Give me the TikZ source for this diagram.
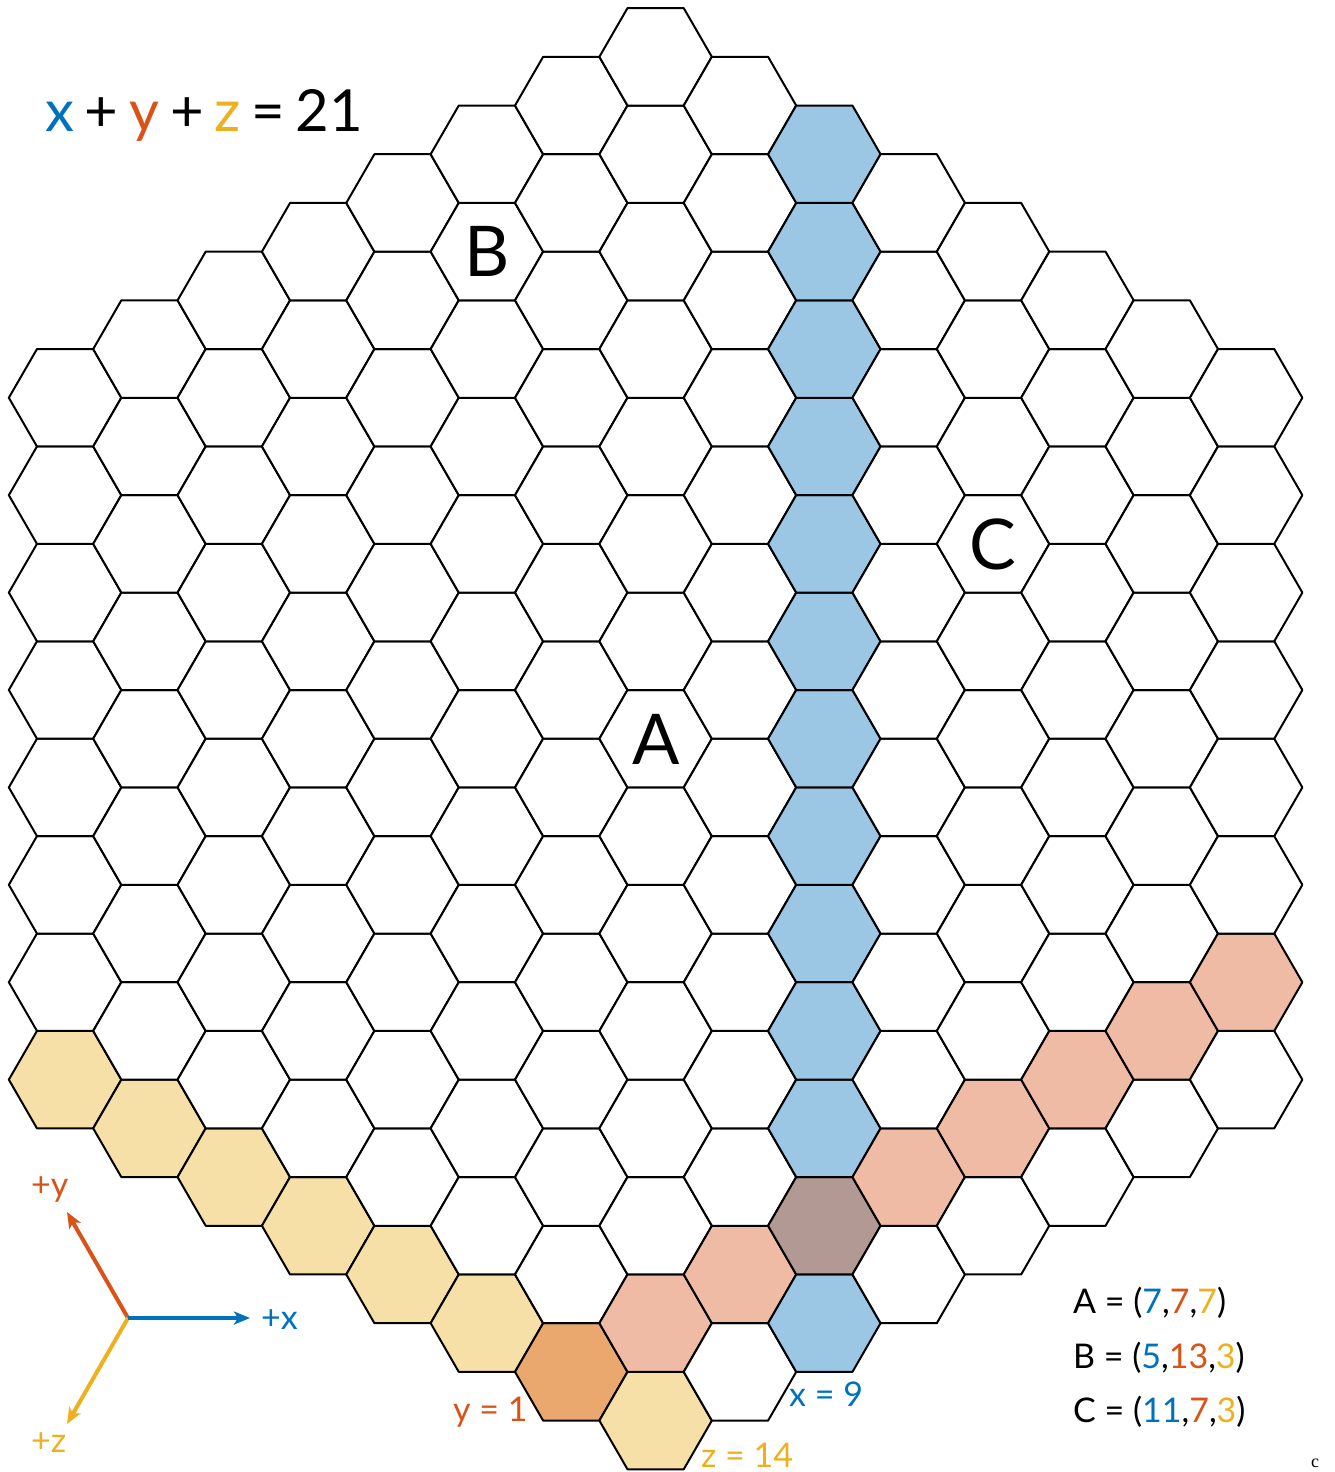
\documentclass[tikz,border=0pt]{standalone}
\usepackage{fontspec}
\setmainfont{Lato}
\newfontfamily\smallserif{Liberation Serif}
\usetikzlibrary{arrows.meta}
\definecolor{tblue}{RGB}{0,114,189}
\definecolor{tred}{RGB}{217,83,25}
\definecolor{tyellow}{RGB}{237,177,32}
\definecolor{cblue}{RGB}{155,199,229}
\definecolor{cred}{RGB}{240,187,165}
\definecolor{cyellow}{RGB}{247,224,168}
\definecolor{corange}{RGB}{234,168,110}
\definecolor{cbrown}{RGB}{179,153,148}
\tikzset{
  hexcell/.style={draw=black, line width=2pt, line join=round},
  axisarrow/.style={line width=4pt, -{Stealth[length=16pt,width=13pt,inset=4pt]}},
  biglabel/.style={font=\fontsize{70}{70}\selectfont, inner sep=0pt, anchor=base},
  legendtext/.style={font=\fontsize{34}{34}\selectfont, inner sep=0pt, anchor=base west},
  linelabel/.style={font=\fontsize{34}{34}\selectfont, inner sep=0pt, anchor=base west},
}
\begin{document}
\begin{tikzpicture}[x=1pt,y=-1pt]
\useasboundingbox (0,0) rectangle (1334,1472);
\def\R{56.24}
\def\ox{655.6}
\def\oy{738.7}
\foreach \x in {0,...,14} {
  \pgfmathtruncatemacro\ymin{max(0,7-\x)}
  \pgfmathtruncatemacro\ymax{min(14,21-\x)}
  \foreach \y in {\ymin,...,\ymax} {
    \pgfmathtruncatemacro\z{21-\x-\y}
    \pgfmathsetmacro\cx{\ox+1.5*\R*(\x-7)}
    \pgfmathsetmacro\cy{\oy-0.8660254*\R*(\y-\z)}
    \def\hf{white}
    \ifnum\x=9 \def\hf{cblue}\fi
    \ifnum\y=1 \ifnum\x=9 \def\hf{cbrown}\else\def\hf{cred}\fi\fi
    \ifnum\z=14 \ifnum\y=1 \def\hf{corange}\else\def\hf{cyellow}\fi\fi
    \draw[hexcell, fill=\hf] (\cx,\cy) +(\R,0) -- +(0.5*\R,0.8660254*\R) -- +(-0.5*\R,0.8660254*\R) -- +(-\R,0) -- +(-0.5*\R,-0.8660254*\R) -- +(0.5*\R,-0.8660254*\R) -- cycle;
  }
}
% big point labels
\node[biglabel] (A) at (656,764) {A};
\node[biglabel] (B) at (487,276) {B};
\node[biglabel] (C) at (993,569) {C};
% title
\node[font=\fontsize{58}{58}\selectfont, inner sep=0pt, anchor=base west] (title) at (45,131)
  {\spaceskip=10.8pt\relax\textcolor{tblue}{x} + \textcolor{tred}{y} + \textcolor{tyellow}{z} = 21};
% axes legend
\coordinate (o) at (128,1318);
\coordinate (xe) at (250,1318);
\coordinate (ye) at (67,1212);
\coordinate (ze) at (67,1424);
\draw[axisarrow, tred] (o) -- (ye);
\draw[axisarrow, tyellow] (o) -- (ze);
\draw[axisarrow, tblue] (o) -- (xe);
\node[linelabel, text=tblue] (xl) at (261,1329) {+x};
\node[linelabel, text=tred] (yl) at (31,1196) {+y};
\node[linelabel, text=tyellow] (zl) at (31,1452) {+z};
% line labels
\node[linelabel, text=tblue] (x9) at (789,1406) {x = 9};
\node[linelabel, text=tred] (y1) at (453,1421) {y = 1};
\node[linelabel, text=tyellow] (z14) at (701,1467) {z = 14};
% coordinates legend
\node[legendtext] (la) at (1073,1313) {A = (\textcolor{tblue}{7},\textcolor{tred}{7},\textcolor{tyellow}{7})};
\node[legendtext] (lb) at (1073,1368) {B = (\textcolor{tblue}{5},\textcolor{tred}{13},\textcolor{tyellow}{3})};
\node[legendtext] (lc) at (1073,1422) {C = (\textcolor{tblue}{11},\textcolor{tred}{7},\textcolor{tyellow}{3})};
\node[font=\smallserif\fontsize{18}{18}\selectfont, inner sep=0pt, anchor=base] (cmark) at (1315,1467) {c};
\end{tikzpicture}
\end{document}
